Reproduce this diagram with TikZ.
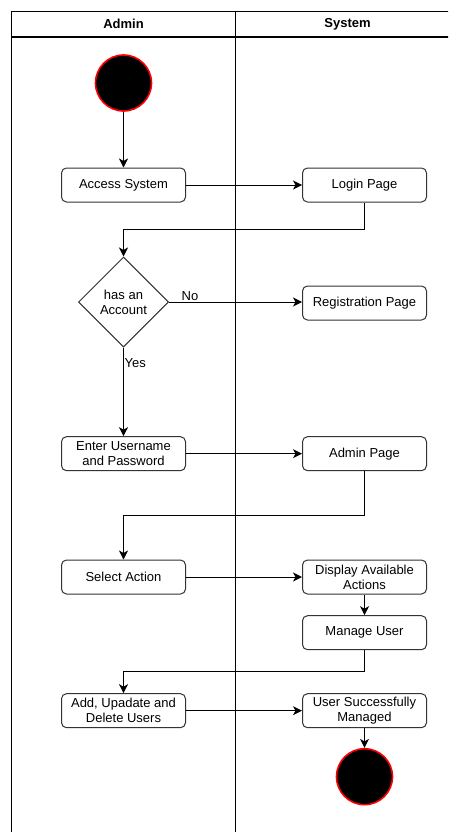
\documentclass[tikz,border=0pt]{standalone}
\usepackage{fontspec}
\setmainfont{Liberation Sans}
\usetikzlibrary{shapes.geometric,arrows.meta}
\begin{document}
\begin{tikzpicture}[x=1pt,y=-1pt,
  act/.style={draw=black!80, line width=1pt, rounded corners=5pt, minimum width=124pt, minimum height=34pt, inner sep=1pt, align=center, font=\fontsize{13}{15}\selectfont, fill=white},
  dec/.style={draw=black!80, line width=1pt, diamond, aspect=1, minimum width=90pt, minimum height=90pt, inner sep=0pt, align=center, font=\fontsize{13}{15}\selectfont, fill=white},
  term/.style={circle, fill=black, draw=red, line width=1.6pt, minimum size=56pt, inner sep=0pt},
  flow/.style={line width=1pt, -{Stealth[length=9pt,width=9pt,inset=2.5pt]}},
  lane/.style={line width=1.2pt},
  lbl/.style={font=\fontsize{13}{15}\selectfont, inner sep=1pt},
  head/.style={font=\bfseries\fontsize{13}{15}\selectfont}
]
\useasboundingbox (0,0) rectangle (448,832);
\begin{scope}
\clip (0,0) rectangle (448,832);
% swimlanes
\draw[lane] (11.7,840) -- (11.7,11.5) -- (470,11.5);
\draw[lane] (11.7,37) -- (470,37);
\draw[lane] (235.5,11.5) -- (235.5,840);
\end{scope}
\node[head] (hA) at (123.5,24) {Admin};
\node[head] (hS) at (347.5,24) {System};

% nodes
\node[term] (start) at (123.5,83) {};
\node[act] (access) at (123.5,185) {Access System};
\node[act] (login) at (364.5,185) {Login Page};
\node[dec] (has) at (123.5,302) {has an\\Account};
\node[act] (reg) at (364.5,303) {Registration Page};
\node[act] (enter) at (123.5,453.7) {Enter Username\\and Password};
\node[act] (admin) at (364.5,453.7) {Admin Page};
\node[act] (select) at (123.5,577) {Select Action};
\node[act] (display) at (364.5,577) {Display Available\\Actions};
\node[act] (manage) at (364.5,632.7) {Manage User};
\node[act] (add) at (123.5,710.7) {Add, Upadate and\\Delete Users};
\node[act] (succ) at (364.5,710.7) {User Successfully\\Managed};
\node[term] (end) at (364.5,776.7) {};

\coordinate (j1) at (364.5,229.3);
\coordinate (j2) at (364.5,515);
\coordinate (j3) at (364.5,671.7);

% connectors
\draw[flow] (start) -- (access.north);
\draw[flow] (access) -- (login);
\draw[flow] (login.south) -- (j1) -| (has.north);
\draw[flow] (has.east) -- (reg.west |- has.east);
\draw[flow] (has.south) -- (enter.north);
\draw[flow] (enter) -- (admin);
\draw[flow] (admin.south) -- (j2) -| (select.north);
\draw[flow] (select) -- (display);
\draw[flow] (display) -- (manage);
\draw[flow] (manage.south) -- (j3) -| (add.north);
\draw[flow] (add) -- (succ);
\draw[flow] (succ) -- (end);

\node[lbl] (no) at (190,296) {No};
\node[lbl, anchor=west] (yes) at (123.5,363) {Yes};
\end{tikzpicture}
\end{document}
